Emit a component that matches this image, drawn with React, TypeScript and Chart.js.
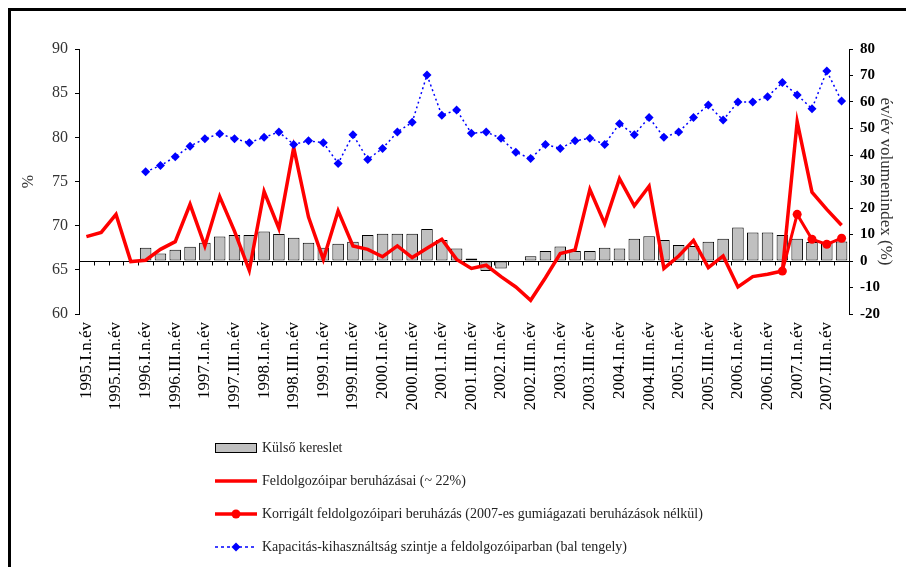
import React, { useEffect, useRef } from "react";
import { Chart, registerables } from "chart.js";
Chart.register(...registerables);

const categories = [
  "1995.I.n.év", "1995.II.n.év", "1995.III.n.év", "1995.IV.n.év",
  "1996.I.n.év", "1996.II.n.év", "1996.III.n.év", "1996.IV.n.év",
  "1997.I.n.év", "1997.II.n.év", "1997.III.n.év", "1997.IV.n.év",
  "1998.I.n.év", "1998.II.n.év", "1998.III.n.év", "1998.IV.n.év",
  "1999.I.n.év", "1999.II.n.év", "1999.III.n.év", "1999.IV.n.év",
  "2000.I.n.év", "2000.II.n.év", "2000.III.n.év", "2000.IV.n.év",
  "2001.I.n.év", "2001.II.n.év", "2001.III.n.év", "2001.IV.n.év",
  "2002.I.n.év", "2002.II.n.év", "2002.III.n.év", "2002.IV.n.év",
  "2003.I.n.év", "2003.II.n.év", "2003.III.n.év", "2003.IV.n.év",
  "2004.I.n.év", "2004.II.n.év", "2004.III.n.év", "2004.IV.n.év",
  "2005.I.n.év", "2005.II.n.év", "2005.III.n.év", "2005.IV.n.év",
  "2006.I.n.év", "2006.II.n.év", "2006.III.n.év", "2006.IV.n.év",
  "2007.I.n.év", "2007.II.n.év", "2007.III.n.év", "2007.IV.n.év",
];

// Külső kereslet (right axis, bars)
const kulsoKereslet = [
  null, null, null, null,
  5.0, 2.8, 4.2, 5.4, 6.9, 9.2, 9.8, 9.8, 11.1, 10.2, 8.8, 6.9,
  5.0, 6.5, 7.3, 9.8, 10.3, 10.3, 10.3, 12.1, 7.9, 4.7, 0.9, -3.8,
  -2.8, -0.4, 1.8, 3.8, 5.5, 3.8, 3.8, 5.0, 4.7, 8.4, 9.3, 7.9,
  6.0, 5.7, 7.3, 8.4, 12.6, 10.8, 10.8, 9.8, 8.4, 7.2, 6.9, 7.4,
];

// Feldolgozóipar beruházásai (right axis)
const feldolgozoipar = [
  9.2, 10.8, 17.6, -0.2, 0.3, 4.4, 7.3, 21.4, 5.7, 24.3, 11.3, -3.5,
  26.2, 12.3, 42.8, 16.6, 0.6, 18.9, 5.7, 4.4, 1.6, 5.7, 1.3, 4.8,
  8.2, 0.6, -2.8, -1.6, -5.9, -9.8, -14.8, -6.3, 2.8, 4.2, 27.0, 14.1,
  31.1, 20.8, 28.2, -2.8, 1.9, 7.8, -2.5, 1.9, -9.8, -5.9, -5.0, -3.8,
  52.6, 26.0, 19.5, 13.5,
];

// Korrigált feldolgozóipari beruházás (right axis)
const korrigalt = [
  null, null, null, null, null, null, null, null, null, null, null, null,
  null, null, null, null, null, null, null, null, null, null, null, null,
  null, null, null, null, null, null, null, null, null, null, null, null,
  null, null, null, null, null, null, null, null, null, null, null, -3.8,
  17.6, 8.2, 6.3, 8.6,
];

// Kapacitás-kihasználtság (left axis)
const kapacitas = [
  null, null, null, null,
  76.1, 76.8, 77.8, 79.0, 79.85, 80.4, 79.85, 79.4, 80.0, 80.6, 79.2, 79.6,
  79.4, 77.05, 80.3, 77.5, 78.75, 80.6, 81.7, 87.05, 82.5, 83.1, 80.45, 80.6,
  79.9, 78.3, 77.6, 79.2, 78.75, 79.6, 79.9, 79.2, 81.55, 80.3, 82.25, 80.0,
  80.6, 82.25, 83.65, 81.95, 84.0, 84.0, 84.6, 86.2, 84.8, 83.25, 87.5, 84.1,
];

const seriesNames = [
  "Külső kereslet",
  "Feldolgozóipar beruházásai (~ 22%)",
  "Korrigált feldolgozóipari beruházás (2007-es gumiágazati beruházások nélkül)",
  "Kapacitás-kihasználtság szintje a feldolgozóiparban (bal tengely)",
];

const leftAxisRange = [60, 90, 5];
const rightAxisRange = [-20, 80, 10];

const SERIF = "'Liberation Serif', 'DejaVu Serif', serif";

const zeroLinePlugin = {
  id: "zeroLine",
  beforeDatasetsDraw(chart: any) {
    const { ctx, chartArea, scales } = chart;
    const y0 = Math.round(scales.y1.getPixelForValue(0)) + 0.5;
    ctx.save();
    ctx.strokeStyle = "#000";
    ctx.lineWidth = 1;
    ctx.beginPath();
    ctx.moveTo(chartArea.left, y0);
    ctx.lineTo(chartArea.right, y0);
    const n = categories.length;
    const w = (chartArea.right - chartArea.left) / n;
    for (let i = 0; i <= n; i++) {
      const x = Math.round(chartArea.left + i * w) + 0.5;
      ctx.moveTo(x, y0);
      ctx.lineTo(x, y0 + 4);
    }
    ctx.stroke();
    ctx.restore();
  },
};

const legendPlugin = {
  id: "customLegend",
  afterDraw(chart: any) {
    const { ctx } = chart;
    const x0 = 204;
    const sw = 42;
    const textX = 251;
    const yStart = 437;
    const step = 33;
    ctx.save();
    ctx.font = `14px ${SERIF}`;
    ctx.fillStyle = "#222";
    ctx.textBaseline = "middle";
    seriesNames.forEach((name, k) => {
      const y = yStart + k * step;
      if (k === 0) {
        ctx.fillStyle = "#C0C0C0";
        ctx.fillRect(x0, y - 5, sw, 10);
        ctx.strokeStyle = "#000";
        ctx.lineWidth = 1;
        ctx.strokeRect(x0 + 0.5, y - 4.5, sw - 1, 9);
      } else if (k === 1 || k === 2) {
        ctx.strokeStyle = "#FF0000";
        ctx.lineWidth = 3.5;
        ctx.setLineDash([]);
        ctx.beginPath();
        ctx.moveTo(x0, y);
        ctx.lineTo(x0 + sw, y);
        ctx.stroke();
        if (k === 2) {
          ctx.fillStyle = "#FF0000";
          ctx.beginPath();
          ctx.arc(x0 + sw / 2, y, 4.5, 0, Math.PI * 2);
          ctx.fill();
        }
      } else {
        ctx.strokeStyle = "#0000FF";
        ctx.lineWidth = 1.5;
        ctx.setLineDash([3, 3]);
        ctx.beginPath();
        ctx.moveTo(x0, y);
        ctx.lineTo(x0 + sw, y);
        ctx.stroke();
        ctx.setLineDash([]);
        ctx.fillStyle = "#0000FF";
        const cx = x0 + sw / 2;
        ctx.beginPath();
        ctx.moveTo(cx, y - 4.5);
        ctx.lineTo(cx + 4.5, y);
        ctx.lineTo(cx, y + 4.5);
        ctx.lineTo(cx - 4.5, y);
        ctx.closePath();
        ctx.fill();
      }
      ctx.fillStyle = "#222";
      ctx.fillText(name, textX, y);
    });
    ctx.restore();
  },
};

export default function App() {
  const ref = useRef<HTMLCanvasElement | null>(null);
  useEffect(() => {
    if (!ref.current) return;
    const chart = new Chart(ref.current, {
      type: "bar",
      data: {
        labels: categories,
        datasets: [
          {
            type: "line",
            label: seriesNames[3],
            data: kapacitas,
            yAxisID: "y",
            borderColor: "#0000FF",
            borderWidth: 1.5,
            borderDash: [2, 3],
            pointStyle: "rectRot",
            pointRadius: 4.5,
            pointBackgroundColor: "#0000FF",
            pointBorderWidth: 0,
            tension: 0,
            order: 0,
          },
          {
            type: "line",
            label: seriesNames[2],
            data: korrigalt,
            yAxisID: "y1",
            borderColor: "#FF0000",
            borderWidth: 3,
            pointStyle: "circle",
            pointRadius: 4.5,
            pointBackgroundColor: "#FF0000",
            pointBorderWidth: 0,
            tension: 0,
            order: 1,
          },
          {
            type: "line",
            label: seriesNames[1],
            data: feldolgozoipar,
            yAxisID: "y1",
            borderColor: "#FF0000",
            borderWidth: 3.5,
            pointRadius: 0,
            tension: 0,
            order: 2,
          },
          {
            type: "bar",
            label: seriesNames[0],
            data: kulsoKereslet,
            yAxisID: "y1",
            backgroundColor: "#C0C0C0",
            borderColor: "#000",
            borderWidth: 1,
            borderSkipped: false,
            categoryPercentage: 1,
            barPercentage: 0.78,
            order: 3,
          },
        ] as any,
      },
      options: {
        responsive: false,
        animation: false,
        layout: { padding: { top: 38, bottom: 133, left: 0, right: 0 } },
        plugins: {
          legend: { display: false },
          tooltip: { enabled: false },
        },
        scales: {
          x: {
            offset: true,
            grid: { display: false, drawTicks: false },
            border: { display: false },
            ticks: {
              autoSkip: false,
              maxRotation: 90,
              minRotation: 90,
              padding: 8,
              color: "#000",
              font: { family: SERIF, size: 17 },
              callback: (_v: any, i: number) => (i % 2 === 0 ? categories[i] : ""),
            },
            afterFit: (s: any) => {
              s.height = 120;
            },
          },
          y: {
            position: "left",
            min: leftAxisRange[0],
            max: leftAxisRange[1],
            ticks: {
              stepSize: leftAxisRange[2],
              color: "#333",
              padding: 7,
              font: { family: SERIF, size: 16 },
            },
            grid: { drawOnChartArea: false, drawTicks: true, tickLength: 4, color: "#000" },
            border: { display: true, color: "#000", width: 1 },
            title: {
              display: true,
              text: "%",
              color: "#333",
              font: { family: SERIF, size: 16 },
              padding: { top: 8, bottom: 0 },
            },
            afterFit: (s: any) => {
              s.width = 68;
            },
          },
          y1: {
            position: "right",
            min: rightAxisRange[0],
            max: rightAxisRange[1],
            ticks: {
              stepSize: rightAxisRange[2],
              color: "#000",
              padding: 7,
              font: { family: SERIF, size: 15, weight: "bold" },
            },
            grid: { drawOnChartArea: false, drawTicks: true, tickLength: 4, color: "#000" },
            border: { display: true, color: "#000", width: 1 },
            title: {
              display: true,
              text: "év/év volumenindex (%)",
              color: "#333",
              font: { family: SERIF, size: 17 },
              padding: { top: 10, bottom: 0 },
            },
            afterFit: (s: any) => {
              s.width = 57;
            },
          },
        },
      } as any,
      plugins: [zeroLinePlugin, legendPlugin],
    });
    return () => chart.destroy();
  }, []);

  return (
    <div
      style={{
        position: "fixed",
        left: 8,
        top: 8,
        width: 898,
        height: 559,
        borderTop: "3px solid #000",
        borderLeft: "3px solid #000",
        boxSizing: "border-box",
        background: "#fff",
        overflow: "hidden",
      }}
    >
      <canvas ref={ref} width={895} height={556} style={{ display: "block" }} />
    </div>
  );
}
